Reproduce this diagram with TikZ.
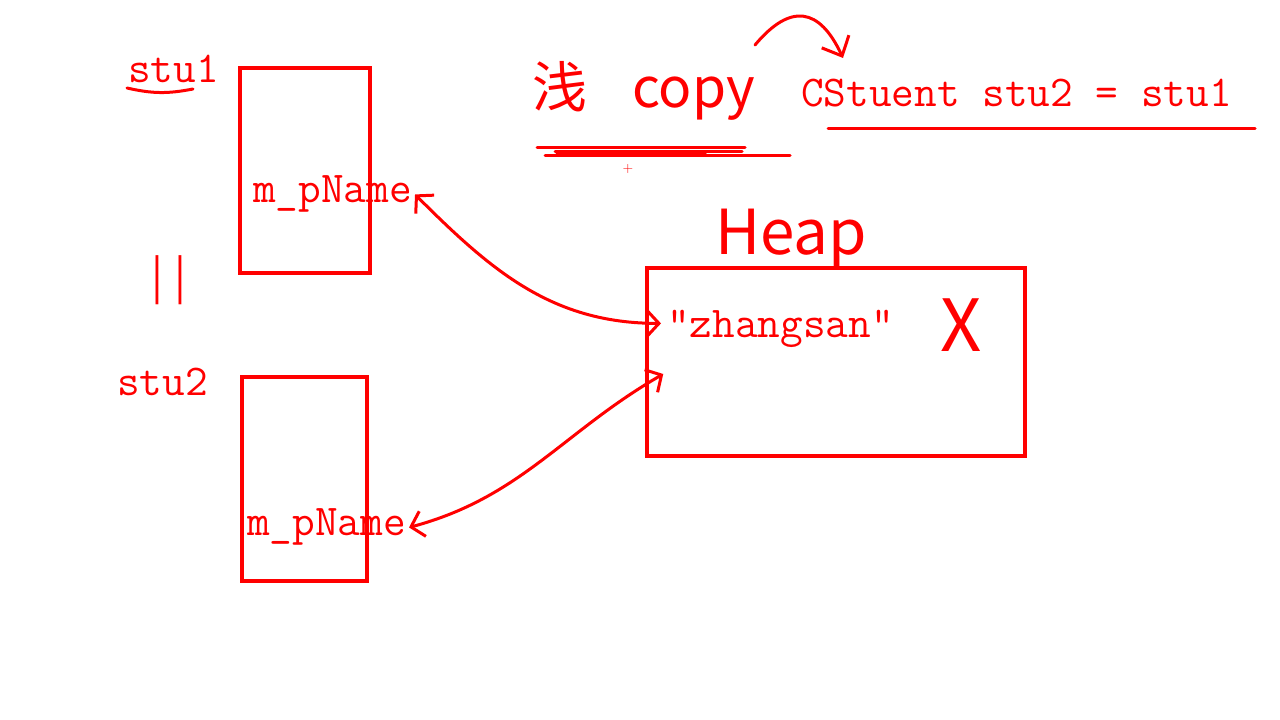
\documentclass[tikz,border=0pt]{standalone}
\usepackage{fontspec}
\usepackage{xcolor}
\newfontfamily\cjkfont{Noto Sans CJK SC}
\definecolor{ink}{rgb}{1,0,0}
\usetikzlibrary{arrows.meta}
\usetikzlibrary{positioning}

\tikzset{
  mono/.style={text=ink, font=\ttfamily\fontsize{44}{50}\selectfont, inner sep=0pt},
  scrawl/.style={text=ink, font=\cjkfont\fontsize{#1}{#1}\selectfont, inner sep=0pt},
  membox/.style={draw=ink, line width=3.5pt, inner sep=0pt},
  pen/.style={draw=ink, line width=3pt, line cap=round, line join=round}
}

\begin{document}
\begin{tikzpicture}[x=1pt, y=1pt, >={Straight Barb[length=12pt, width=26pt]}]
\fill[white] (0,0) rectangle (1280,720);
\useasboundingbox (0,0) rectangle (1280,720);

\node[membox, minimum width=130pt, minimum height=205pt] (box1) at (305,549.5) {};
\node[membox, minimum width=125pt, minimum height=204pt] (box2) at (304.5,241) {};
\node[membox, minimum width=378pt, minimum height=188pt] (heap) at (836,358) {};

\node[mono, anchor=base west] (stu1) at (128,637) {stu1};
\node[mono, anchor=base west] (stu2) at (117,324) {stu2};
\node[mono, anchor=base west] (name1) at (253,517) {m\_pName};
\node[mono, anchor=base west] (name2) at (247,184) {m\_pName};
\node[mono, anchor=base west] (zs) at (667,382) {"zhangsan"};
\node[mono, anchor=base west] (code) at (801,613) {CStuent stu2 = stu1};

\node[scrawl=55, anchor=base west] (copy) at (532,612) {浅\hspace{45pt}copy};
\node[scrawl=62, anchor=base west] (heapname) at (715,465) {Heap};
\node[scrawl=72, anchor=base] (cross) at (961,368) {X};
\node[scrawl=44] (equal) at (169,440) {|\hspace{12pt}|};
\node[text=ink, font=\fontsize{14}{14}\selectfont, inner sep=0pt] (mark) at (628,551) {+};

\coordinate (hp) at ([shift={(18pt,-12pt)}]heap.west);
\coordinate (ca) at (755,675);
\coordinate (cb) at (843,662);

% pointers
\draw[pen, <->] ([xshift=3pt]name1.east) to[out=-45, in=180] ([shift={(-6pt,6pt)}]zs.west);
\draw[pen, <->] ([xshift=3pt]name2.east) to[out=15, in=210] (hp);
\draw[pen, -{Straight Barb[length=16pt, width=30pt]}] (ca) to[out=50, in=115, looseness=1.6] (cb);

% underlines
\draw[pen] (127,632) to[bend right=12] (193,631);
\draw[pen] (828,591) -- (1255,591);
\draw[pen] (537,572) -- (745,572);
\draw[pen] (555,568) -- (742,568);
\draw[pen] (557,566) -- (705,566);
\draw[pen] (545,564) -- (790,564);
\end{tikzpicture}
\end{document}
